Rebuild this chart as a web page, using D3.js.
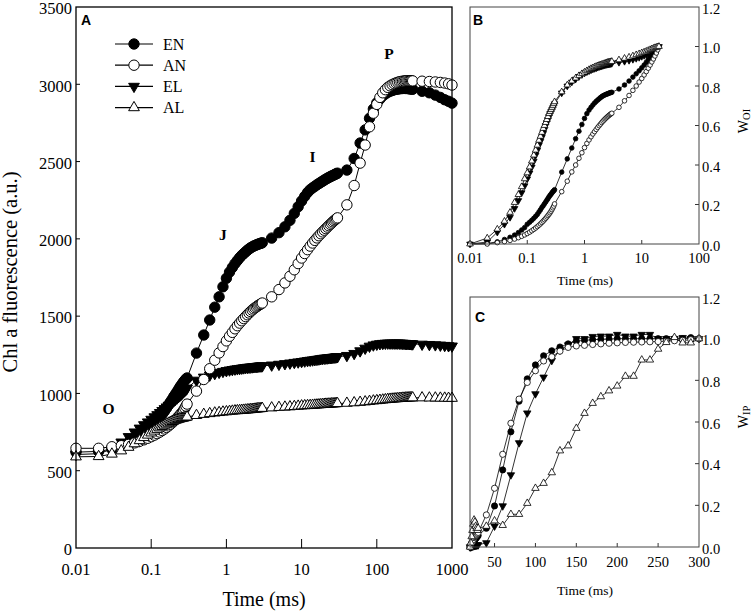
<!DOCTYPE html>
<html><head><meta charset="utf-8">
<script src="https://cdn.jsdelivr.net/npm/d3@7"></script>
<style>body{margin:0;background:#fff}svg{display:block}</style>
</head><body>
<svg id="c" width="752" height="613"></svg>
<script>
// ---------------- DATA ----------------
const timesA = [0.01,0.02,0.03,0.04,0.05,0.06,0.07,0.08,0.09,0.1,
  0.11,0.12,0.13,0.14,0.15,0.16,0.17,0.18,0.19,0.2,
  0.21,0.22,0.23,0.24,0.25,0.26,0.27,0.28,0.29,0.3,
  0.4,0.5,0.6,0.7,0.8,0.9,1,1.1,1.2,1.3,
  1.4,1.5,1.6,1.7,1.8,1.9,2,2.1,2.2,2.3,
  2.4,2.5,2.6,2.7,2.8,2.9,3,
  4,5,6,7,8,9,10,11,12,13,
  14,15,16,17,18,19,20,21,22,23,
  24,25,26,27,28,29,30,
  40,50,60,70,80,90,100,110,120,130,
  140,150,160,170,180,190,200,210,220,230,
  240,250,260,270,280,290,300,
  400,500,600,700,800,900,1000];

const EN_A = [620,625,640,660,680,700,722,744,765,785, 805,825,845,865,885,905,925,945,962,980, 995,1010,1025,1040,1052,1064,1075,1085,1093,1100,
  1261,1378,1475,1558,1625,1690,1745,1785,1815,1840, 1860,1878,1893,1905,1916,1926,1935,1942,1948,1953, 1957,1961,1964,1967,1970,1972,1975,
  2005,2040,2078,2120,2165,2208,2245,2275,2300,2318, 2330,2340,2350,2358,2366,2373,2380,2386,2392,2397, 2402,2406,2410,2414,2418,2421,2425,
  2445,2520,2620,2705,2780,2840,2880,2905,2925,2938, 2948,2955,2960,2964,2967,2969,2971,2972,2973,2973, 2973,2973,2972,2971,2970,2969,2968,
  2955,2945,2930,2915,2900,2890,2878];

const AN_A = [645,645,655,662,670,680,690,700,710,720, 730,740,750,760,770,780,790,800,810,820, 830,840,850,860,870,880,892,905,918,931,
  1015,1090,1160,1215,1262,1303,1340,1370,1395,1418, 1438,1455,1470,1484,1497,1509,1520,1530,1539,1547, 1554,1560,1566,1571,1576,1580,1585,
  1625,1672,1715,1758,1800,1840,1876,1905,1930,1953, 1973,1990,2006,2020,2033,2045,2056,2066,2076,2085, 2094,2102,2110,2117,2124,2130,2136,
  2220,2345,2490,2607,2725,2813,2870,2915,2945,2965, 2980,2990,2998,3004,3009,3013,3016,3018,3020,3021, 3022,3023,3023,3023,3023,3022,3022,
  3020,3018,3015,3012,3008,3003,2995];

const EL_A = [605,610,640,685,720,750,775,797,815,832, 848,862,876,889,901,912,923,933,943,952, 961,970,978,986,994,1002,1010,1018,1026,1034,
  1085,1105,1118,1128,1136,1142,1147,1151,1154,1157, 1159,1161,1163,1165,1167,1168,1169,1170,1171,1172, 1173,1174,1175,1176,1177,1177,1178,
  1183,1188,1192,1196,1200,1203,1206,1209,1212,1214, 1216,1218,1220,1222,1224,1226,1227,1228,1229,1230, 1231,1232,1233,1234,1235,1236,1237,
  1245,1258,1275,1292,1305,1313,1318,1321,1323,1324, 1325,1325,1325,1325,1325,1325,1325,1324,1324,1323, 1323,1322,1322,1321,1321,1320,1320,
  1318,1316,1314,1312,1310,1308,1306];

const AL_A = [590,592,608,629,652,675,695,715,731,745, 757,768,778,787,795,802,808,814,819,823, 827,830,833,836,838,840,842,844,846,848,
  858,865,870,874,877,880,882,884,886,888, 889,890,891,892,893,894,895,896,897,898, 899,900,901,902,902,903,904,
  907,910,912,914,916,918,920,921,922,923, 924,925,926,927,928,929,930,931,931,932, 932,933,933,934,934,935,935,
  937,940,943,946,949,952,954,956,958,960, 962,963,964,965,966,967,968,969,970,970, 971,971,972,972,972,972,972,
  972,971,971,970,970,969,969];

const timesB = timesA.slice(0, 74); // 0.01 ... 20 ms

const EN_B = [0,0.003,0.011,0.023,0.034,0.045,0.058,0.071,0.083,0.1, 0.11,0.12,0.13,0.14,0.15,0.162,0.173,0.185,0.194,0.204, 0.213,0.222,0.230,0.239,0.246,0.252,0.259,0.265,0.269,0.275,
  0.364,0.431,0.486,0.533,0.571,0.605,0.636,0.66,0.678,0.692, 0.704,0.714,0.722,0.729,0.735,0.741,0.746,0.75,0.753,0.756, 0.758,0.76,0.762,0.764,0.766,0.767,0.768,
  0.785,0.805,0.825,0.845,0.862,0.877,0.892,0.906,0.920,0.935, 0.950,0.963,0.975,0.985,0.992,0.997,1.0];

const AN_B = [0,0,0.007,0.012,0.018,0.025,0.032,0.039,0.046,0.053, 0.06,0.067,0.074,0.081,0.088,0.095,0.102,0.109,0.116,0.123, 0.13,0.137,0.144,0.151,0.158,0.166,0.174,0.183,0.192,0.203,
  0.265,0.318,0.365,0.40,0.434,0.462,0.488,0.509,0.527,0.543, 0.557,0.569,0.58,0.59,0.599,0.607,0.615,0.622,0.628,0.634, 0.639,0.644,0.648,0.652,0.656,0.659,0.662,
  0.692,0.725,0.752,0.778,0.800,0.820,0.838,0.856,0.873,0.890, 0.906,0.922,0.937,0.952,0.967,0.983,1.0];

const EL_B = [0,0.01,0.06,0.10,0.135,0.18,0.22,0.26,0.295,0.33, 0.36,0.39,0.42,0.45,0.475,0.50,0.52,0.54,0.56,0.58, 0.60,0.615,0.63,0.645,0.66,0.67,0.68,0.69,0.70,0.71,
  0.765,0.80,0.82,0.835,0.848,0.858,0.866,0.872,0.877,0.882, 0.886,0.889,0.892,0.895,0.898,0.90,0.902,0.904,0.906,0.908, 0.909,0.91,0.911,0.912,0.913,0.914,0.915,
  0.92,0.925,0.93,0.935,0.94,0.945,0.95,0.955,0.96,0.965, 0.97,0.975,0.98,0.985,0.99,0.995,1.0];

const AL_B = [0,0.03,0.075,0.115,0.16,0.21,0.25,0.29,0.33,0.36, 0.39,0.42,0.45,0.475,0.50,0.525,0.545,0.565,0.585,0.60, 0.615,0.63,0.645,0.66,0.67,0.68,0.69,0.70,0.71,0.72,
  0.77,0.805,0.825,0.84,0.852,0.862,0.87,0.877,0.883,0.888, 0.892,0.896,0.899,0.902,0.905,0.907,0.909,0.911,0.913,0.915, 0.917,0.919,0.92,0.921,0.922,0.923,0.924,
  0.932,0.94,0.946,0.952,0.958,0.963,0.968,0.972,0.976,0.98, 0.984,0.988,0.991,0.994,0.996,0.998,1.0];

const timesC = [20,21,22,23,24,25,26,27,28,29,30,
  40,50,60,70,80,90,100,110,120,130,140,150,160,170,180,190,200,210,220,230,240,250,260,270,280,290,300];

const EN_C = [0,0.005,0.01,0.015,0.02,0.03,0.035,0.04,0.045,0.05,0.055,
  0.09,0.197,0.37,0.553,0.70,0.807,0.874,0.918,0.942,0.96,0.975,0.988,0.992,0.995,0.997,0.998,1.0,1.0,1.0,1.0,1.0,1.0,1.0,1.0,1.0,1.005,1.0];
const AN_C = [0,0.01,0.02,0.025,0.035,0.045,0.05,0.055,0.06,0.065,0.07,
  0.154,0.282,0.445,0.594,0.71,0.79,0.846,0.893,0.913,0.94,0.958,0.965,0.968,0.972,0.975,0.978,0.98,0.982,0.983,0.984,0.985,0.986,0.988,0.99,0.992,0.995,1.0];
const EL_C = [0,0,0.002,0.004,0.005,0.006,0.007,0.008,0.009,0.01,0.01,
  0.02,0.1,0.197,0.346,0.50,0.643,0.735,0.815,0.895,0.945,0.97,1.0,1.0,1.01,1.012,1.012,1.02,1.012,1.012,1.02,1.02,1.0,1.0,1.0,1.005,1.0,1.0];
const AL_C = [0,0.02,0.05,0.08,0.11,0.13,0.12,0.10,0.09,0.08,0.09,
  0.10,0.126,0.104,0.157,0.157,0.21,0.282,0.306,0.357,0.462,0.486,0.57,0.642,0.69,0.722,0.75,0.773,0.82,0.82,0.898,0.898,0.95,0.982,1.006,0.98,0.98,1.0];

const seriesNames = ["EN","AN","EL","AL"];
const xTicksA = [0.01,0.1,1,10,100,1000];
const xTickLabelsA = ["0.01","0.1","1","10","100","1000"];
const yTicksA = [0,500,1000,1500,2000,2500,3000,3500];
const xTicksB = [0.01,0.1,1,10,100];
const xTickLabelsB = ["0.01","0.1","1","10","100"];
const xTicksC = [50,100,150,200,250,300];
const yTicksBC = [0,0.2,0.4,0.6,0.8,1.0,1.2];
const yTickLabelsBC = ["0.0","0.2","0.4","0.6","0.8","1.0","1.2"];
const phaseLabels = ["O","J","I","P"];
const phaseTimes = [0.027, 0.9, 14, 145];
const phaseValues = [905, 2025, 2530, 3200];

// ---------------- DRAW ----------------
const svg = d3.select("#c");
const serif = "'Liberation Serif','Times New Roman',serif";
const sans = "'Liberation Sans',Arial,sans-serif";
const style = {
  EN: {shape: "circle", fill: "#000"},
  AN: {shape: "circle", fill: "#fff"},
  EL: {shape: "down", fill: "#000"},
  AL: {shape: "up", fill: "#fff"}
};
const drawOrder = ["EL","EN","AN","AL"];

function markers(g, pts, name, r, area, sw) {
  const s = style[name];
  if (s.shape === "circle") {
    g.selectAll(null).data(pts).enter().append("circle")
      .attr("cx", d => d[0]).attr("cy", d => d[1]).attr("r", r)
      .attr("fill", s.fill).attr("stroke", "#000").attr("stroke-width", sw);
  } else {
    const p = d3.symbol().type(d3.symbolTriangle).size(area)();
    g.selectAll(null).data(pts).enter().append("path").attr("d", p)
      .attr("transform", d => `translate(${d[0]},${d[1]})` + (s.shape === "down" ? " rotate(180)" : ""))
      .attr("fill", s.fill).attr("stroke", "#000").attr("stroke-width", sw);
  }
}

function drawSeries(g, x, y, times, dataMap, r, area, sw, lw) {
  drawOrder.forEach(name => {
    const vals = dataMap[name];
    const pts = times.map((t, i) => [x(t), y(vals[i])]);
    g.append("path").attr("d", d3.line()(pts)).attr("fill", "none")
      .attr("stroke", "#000").attr("stroke-width", lw);
    markers(g, pts, name, r, area, sw);
  });
}

// ===== Panel A =====
(function () {
  const x = d3.scaleLog().domain([0.01, 1000]).range([76, 452]);
  const y = d3.scaleLinear().domain([0, 3500]).range([548, 7]);
  const g = svg.append("g");
  xTicksA.slice(1, -1).forEach(t => {
    g.append("line").attr("x1", x(t)).attr("x2", x(t)).attr("y1", 548).attr("y2", 539)
      .attr("stroke", "#000").attr("stroke-width", 1);
  });
  yTicksA.slice(1, -1).forEach(v => {
    g.append("line").attr("x1", 76).attr("x2", 80).attr("y1", y(v)).attr("y2", y(v))
      .attr("stroke", "#000").attr("stroke-width", 1);
  });
  xTicksA.forEach((t, i) => {
    g.append("text").attr("x", x(t)).attr("y", 574.5).attr("text-anchor", "middle")
      .attr("font-family", serif).attr("font-size", 16.5).text(xTickLabelsA[i]);
  });
  yTicksA.forEach(v => {
    g.append("text").attr("x", 72).attr("y", y(v) + 1.5).attr("dy", "0.35em").attr("text-anchor", "end")
      .attr("font-family", serif).attr("font-size", 16.5).text(v);
  });
  g.append("text").attr("x", 264).attr("y", 606).attr("text-anchor", "middle")
    .attr("font-family", serif).attr("font-size", 20).text("Time (ms)");
  g.append("text").attr("transform", "translate(17,272) rotate(-90)").attr("text-anchor", "middle")
    .attr("font-family", serif).attr("font-size", 20.5).text("Chl a fluorescence (a.u.)");

  drawSeries(g, x, y, timesA, {EN: EN_A, AN: AN_A, EL: EL_A, AL: AL_A}, 5.2, 50, 1, 1);

  g.append("rect").attr("x", 76).attr("y", 7).attr("width", 376).attr("height", 541)
    .attr("fill", "none").attr("stroke", "#000").attr("stroke-width", 1.3);

  g.append("text").attr("x", 81).attr("y", 25).attr("font-family", sans).attr("font-weight", "bold")
    .attr("font-size", 14).text("A");

  phaseLabels.forEach((l, i) => {
    g.append("text").attr("x", x(phaseTimes[i])).attr("y", y(phaseValues[i])).attr("dy", "0.35em")
      .attr("text-anchor", "middle").attr("font-family", serif).attr("font-weight", "bold")
      .attr("font-size", 15.5).text(l);
  });

  seriesNames.forEach((n, i) => {
    const ly = 44 + i * 21.2;
    g.append("line").attr("x1", 115).attr("x2", 153).attr("y1", ly).attr("y2", ly)
      .attr("stroke", "#000").attr("stroke-width", 1.2);
    markers(g, [[134, ly]], n, 5.2, 50, 1);
    g.append("text").attr("x", 163).attr("y", ly).attr("dy", "0.35em")
      .attr("font-family", serif).attr("font-size", 16).text(n);
  });
})();

// ===== Panel B =====
(function () {
  const x = d3.scaleLog().domain([0.01, 100]).range([470, 699]);
  const y = d3.scaleLinear().domain([0, 1.2]).range([244, 7]);
  const g = svg.append("g");
  xTicksB.slice(1, -1).forEach(t => {
    g.append("line").attr("x1", x(t)).attr("x2", x(t)).attr("y1", 244).attr("y2", 240)
      .attr("stroke", "#000").attr("stroke-width", 0.8);
  });
  yTicksBC.slice(1, -1).forEach(v => {
    g.append("line").attr("x1", 699).attr("x2", 695).attr("y1", y(v)).attr("y2", y(v))
      .attr("stroke", "#000").attr("stroke-width", 0.8);
  });
  xTicksB.forEach((t, i) => {
    g.append("text").attr("x", x(t)).attr("y", 263).attr("text-anchor", "middle")
      .attr("font-family", serif).attr("font-size", 14.5).text(xTickLabelsB[i]);
  });
  yTicksBC.forEach((v, i) => {
    g.append("text").attr("x", 702).attr("y", y(v) + 1.5).attr("dy", "0.35em")
      .attr("font-family", serif).attr("font-size", 14.5).text(yTickLabelsBC[i]);
  });
  g.append("text").attr("x", 585).attr("y", 285).attr("text-anchor", "middle")
    .attr("font-family", serif).attr("font-size", 13.5).text("Time (ms)");
  const lab = g.append("text").attr("transform", "translate(745,121) rotate(-90)")
    .attr("text-anchor", "middle").attr("dominant-baseline", "middle")
    .attr("font-family", serif).attr("font-size", 14);
  lab.append("tspan").text("W");
  lab.append("tspan").attr("font-size", 10.5).attr("dy", 3).text("OI");

  drawSeries(g, x, y, timesB, {EN: EN_B, AN: AN_B, EL: EL_B, AL: AL_B}, 2.3, 19, 0.8, 0.8);

  g.append("rect").attr("x", 470).attr("y", 7).attr("width", 229).attr("height", 237)
    .attr("fill", "none").attr("stroke", "#444").attr("stroke-width", 1);
  g.append("text").attr("x", 473).attr("y", 25).attr("font-family", sans).attr("font-weight", "bold")
    .attr("font-size", 14).text("B");
})();

// ===== Panel C =====
(function () {
  const x = d3.scaleLinear().domain([20, 300]).range([470, 699]);
  const y = d3.scaleLinear().domain([0, 1.2]).range([547, 297]);
  const g = svg.append("g");
  xTicksC.slice(0, -1).forEach(t => {
    g.append("line").attr("x1", x(t)).attr("x2", x(t)).attr("y1", 547).attr("y2", 543)
      .attr("stroke", "#000").attr("stroke-width", 0.8);
  });
  yTicksBC.slice(1, -1).forEach(v => {
    g.append("line").attr("x1", 699).attr("x2", 695).attr("y1", y(v)).attr("y2", y(v))
      .attr("stroke", "#000").attr("stroke-width", 0.8);
  });
  xTicksC.forEach(t => {
    g.append("text").attr("x", x(t)).attr("y", 566.5).attr("text-anchor", "middle")
      .attr("font-family", serif).attr("font-size", 14.5).text(t);
  });
  yTicksBC.forEach((v, i) => {
    g.append("text").attr("x", 702).attr("y", y(v) + 1.5).attr("dy", "0.35em")
      .attr("font-family", serif).attr("font-size", 14.5).text(yTickLabelsBC[i]);
  });
  g.append("text").attr("x", 585).attr("y", 595).attr("text-anchor", "middle")
    .attr("font-family", serif).attr("font-size", 13.5).text("Time (ms)");
  const lab = g.append("text").attr("transform", "translate(745,417) rotate(-90)")
    .attr("text-anchor", "middle").attr("dominant-baseline", "middle")
    .attr("font-family", serif).attr("font-size", 14);
  lab.append("tspan").text("W");
  lab.append("tspan").attr("font-size", 10.5).attr("dy", 3).text("IP");

  drawSeries(g, x, y, timesC, {EN: EN_C, AN: AN_C, EL: EL_C, AL: AL_C}, 3.1, 24, 0.8, 0.8);

  g.append("rect").attr("x", 470).attr("y", 297).attr("width", 229).attr("height", 250)
    .attr("fill", "none").attr("stroke", "#444").attr("stroke-width", 1);
  g.append("text").attr("x", 475).attr("y", 322).attr("font-family", sans).attr("font-weight", "bold")
    .attr("font-size", 14).text("C");
})();
</script>
</body></html>
